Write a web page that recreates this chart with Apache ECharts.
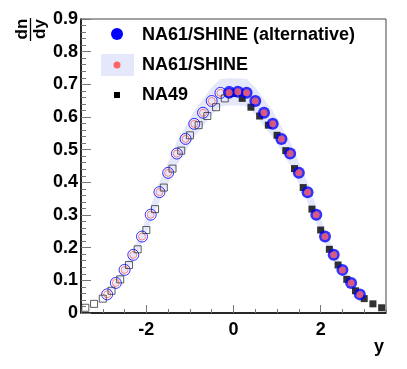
<!DOCTYPE html>
<html>
<head>
<meta charset="utf-8">
<script src="https://cdn.jsdelivr.net/npm/echarts@6/dist/echarts.min.js"></script>
<style>
  html, body { margin: 0; padding: 0; background: #fff; }
  #chart { width: 407px; height: 369px; }
</style>
</head>
<body>
<div id="chart"></div>
<script>
var na61X = [-0.1, 0.1, 0.3, 0.5, 0.7, 0.9, 1.1, 1.3, 1.5, 1.7, 1.9, 2.1, 2.3, 2.5, 2.7, 2.9];
var na61Y = [0.674, 0.677, 0.674, 0.649, 0.613, 0.579, 0.533, 0.488, 0.429, 0.370, 0.301, 0.234, 0.178, 0.132, 0.092, 0.057];
var altY  = [0.674, 0.677, 0.674, 0.649, 0.613, 0.579, 0.533, 0.488, 0.429, 0.370, 0.301, 0.234, 0.178, 0.132, 0.092, 0.057];
// half width of the systematic band
var bandErr = [0.042, 0.042, 0.042, 0.042, 0.041, 0.040, 0.038, 0.036, 0.033, 0.030, 0.026, 0.021, 0.017, 0.013, 0.009, 0.006];

// NA49
var na49X = [0, 0.2, 0.4, 0.6, 0.8, 1.0, 1.2, 1.4, 1.6, 1.8, 2.0, 2.2, 2.4, 2.6, 2.8, 3.0, 3.2, 3.4];
var na49Y = [0.672, 0.657, 0.630, 0.603, 0.575, 0.544, 0.497, 0.442, 0.384, 0.318, 0.254, 0.195, 0.147, 0.103, 0.068, 0.044, 0.028, 0.016];

var xTickLabels = [-2, 0, 2];

var FONT = 'Liberation Sans, Arial, Helvetica, sans-serif';

function pts(xs, ys) {
    return xs.map(function (x, i) { return [x, ys[i]]; });
}
// reflected points (open markers), only from y > 0
function mirror(xs, ys) {
    var out = [];
    xs.forEach(function (x, i) {
        if (x > 0) out.push([-x, ys[i]]);
    });
    return out;
}

// band over both sides
var bandPts = [];
na61X.forEach(function (x, i) {
    if (x > 0) bandPts.push([-x, na61Y[i], bandErr[i]]);
});
na61X.forEach(function (x, i) {
    if (x > 0) bandPts.push([x, na61Y[i], bandErr[i]]);
});
bandPts.sort(function (a, b) { return a[0] - b[0]; });

var myChart = echarts.init(document.getElementById('chart'), null, {renderer: 'canvas'});

var option = {
    animation: false,
    grid: {
        left: 81, right: 21, top: 19, bottom: 56,
        show: true, borderColor: '#444', borderWidth: 1, backgroundColor: 'transparent'
    },
    xAxis: [
        {
            type: 'value', min: -3.5, max: 3.5, interval: 0.5,
            axisLine: {show: true, onZero: false, lineStyle: {color: '#000', width: 1.5}},
            axisTick: {show: true, inside: true, length: 4, lineStyle: {color: '#777'}},
            splitLine: {show: false},
            axisLabel: {
                margin: 8, color: '#000', fontFamily: FONT, fontWeight: 'bold', fontSize: 18,
                customValues: xTickLabels
            },
            name: 'y', nameLocation: 'end', nameGap: 0,
            nameTextStyle: {
                color: '#000', fontFamily: FONT, fontWeight: 'bold', fontSize: 18,
                align: 'right', verticalAlign: 'top', padding: [25, 2, 0, 0]
            }
        },
        {
            type: 'value', min: -3.5, max: 3.5, position: 'bottom',
            axisLine: {show: false},
            axisTick: {show: true, inside: true, length: 8, customValues: xTickLabels, lineStyle: {color: '#777'}},
            axisLabel: {show: false},
            splitLine: {show: false}
        }
    ],
    yAxis: {
        type: 'value', min: 0, max: 0.9, interval: 0.1,
        axisLine: {show: true, onZero: false, lineStyle: {color: '#000', width: 1.5}},
        axisTick: {show: true, inside: true, length: 10, lineStyle: {color: '#777'}},
        minorTick: {show: true, splitNumber: 5, length: 5, lineStyle: {color: '#777'}},
        splitLine: {show: false},
        axisLabel: {margin: 3, color: '#000', fontFamily: FONT, fontWeight: 'bold', fontSize: 18}
    },
    graphic: [
        // dn/dy
        {type: 'text', x: 22, y: 29, rotation: Math.PI / 2,
         style: {text: 'dn', font: 'bold 17px ' + FONT, fill: '#000', align: 'center', verticalAlign: 'middle'}},
        {type: 'line', shape: {x1: 30.5, y1: 18, x2: 30.5, y2: 41}, style: {stroke: '#000', lineWidth: 1.3}},
        {type: 'text', x: 40, y: 29, rotation: Math.PI / 2,
         style: {text: 'dy', font: 'bold 17px ' + FONT, fill: '#000', align: 'center', verticalAlign: 'middle'}},
        // legend
        {type: 'circle', shape: {cx: 117, cy: 34, r: 6}, style: {fill: '#0000ff'}},
        {type: 'text', x: 142, y: 35, style: {text: 'NA61/SHINE (alternative)', font: 'bold 18px ' + FONT, fill: '#000', verticalAlign: 'middle'}},
        {type: 'rect', shape: {x: 101, y: 54, width: 33, height: 22}, style: {fill: '#e5e8fa'}},
        {type: 'circle', shape: {cx: 117, cy: 65, r: 3.5}, style: {fill: '#ff6666'}},
        {type: 'text', x: 142, y: 65, style: {text: 'NA61/SHINE', font: 'bold 18px ' + FONT, fill: '#000', verticalAlign: 'middle'}},
        {type: 'rect', shape: {x: 114, y: 92, width: 6, height: 6}, style: {fill: '#000'}},
        {type: 'text', x: 142, y: 95, style: {text: 'NA49', font: 'bold 18px ' + FONT, fill: '#000', verticalAlign: 'middle'}}
    ],
    series: [
        {
            name: 'band', type: 'custom', clip: true, silent: true,
            data: bandPts,
            renderItem: function (params, api) {
                if (params.dataIndex !== 0) return null;
                var up = [], lo = [];
                bandPts.forEach(function (p) {
                    up.push(api.coord([p[0], p[1] + p[2]]));
                    lo.push(api.coord([p[0], p[1] - p[2]]));
                });
                return {
                    type: 'polygon',
                    shape: {points: up.concat(lo.reverse())},
                    style: {fill: '#e5e8fa', stroke: null}
                };
            },
            z: 1
        },
        {
            name: 'NA49 refl', type: 'scatter', data: mirror(na49X, na49Y),
            symbol: 'rect', symbolSize: 7,
            itemStyle: {color: 'rgba(0,0,0,0)', borderColor: '#333', borderWidth: 1}, z: 4
        },
        {
            name: 'alt refl', type: 'scatter', data: mirror(na61X, altY),
            symbol: 'circle', symbolSize: 11,
            itemStyle: {color: 'rgba(0,0,0,0)', borderColor: '#0000ff', borderWidth: 1}, z: 2
        },
        {
            name: 'NA61 refl', type: 'scatter', data: mirror(na61X, na61Y),
            symbol: 'circle', symbolSize: 7,
            itemStyle: {color: 'rgba(0,0,0,0)', borderColor: '#ff6666', borderWidth: 1}, z: 3
        },
        {
            name: 'NA49', type: 'scatter', data: pts(na49X, na49Y),
            symbol: 'rect', symbolSize: 7,
            itemStyle: {color: '#000'}, z: 2
        },
        {
            name: 'NA61/SHINE (alternative)', type: 'scatter', data: pts(na61X, altY),
            symbol: 'circle', symbolSize: 12,
            itemStyle: {color: '#0000ff'}, z: 3
        },
        {
            name: 'NA61/SHINE', type: 'scatter', data: pts(na61X, na61Y),
            symbol: 'circle', symbolSize: 7,
            itemStyle: {color: '#ff6666'}, z: 4
        }
    ]
};
myChart.setOption(option);
</script>
</body>
</html>
